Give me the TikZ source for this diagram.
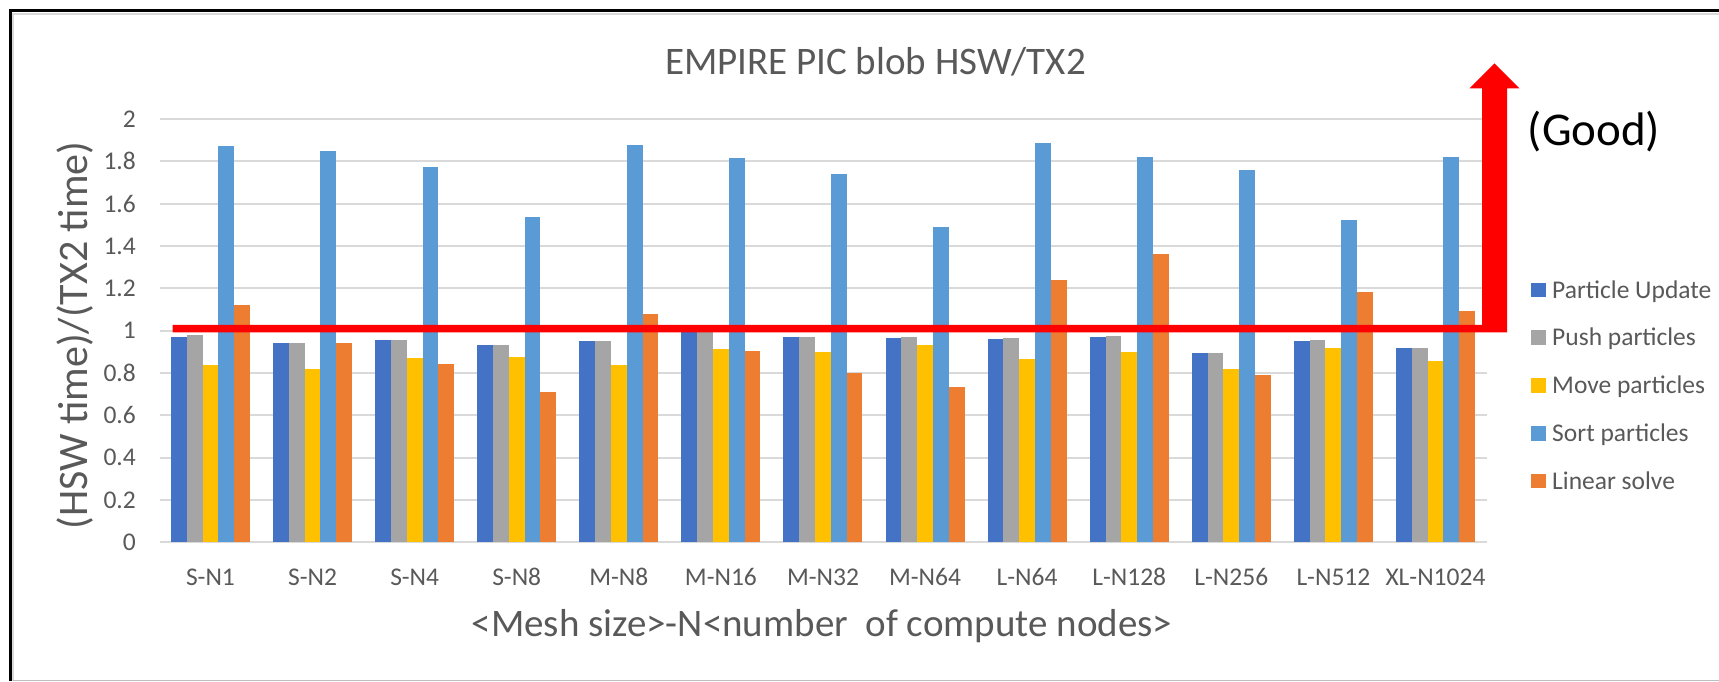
\documentclass[tikz,border=0pt]{standalone}
\usepackage{fontspec}
\setmainfont{Carlito}
\definecolor{cPU}{HTML}{4472C4}
\definecolor{cPush}{HTML}{A5A5A5}
\definecolor{cMove}{HTML}{FFC000}
\definecolor{cSort}{HTML}{5B9BD5}
\definecolor{cLin}{HTML}{ED7D31}
\definecolor{cGrid}{HTML}{D9D9D9}
\definecolor{cText}{HTML}{595959}
\definecolor{cRed}{HTML}{FF0000}
\tikzset{
  gridline/.style={draw=cGrid, line width=2pt},
  ticklbl/.style={font=\fontsize{25.5}{26}\selectfont, text=cText, inner sep=0pt, anchor=base east},
  catlbl/.style={font=\fontsize{25.5}{26}\selectfont, text=cText, inner sep=0pt, anchor=base},
  axtitle/.style={font=\fontsize{39}{40}\selectfont, text=cText, inner sep=0pt},
  leglbl/.style={font=\fontsize{25.5}{26}\selectfont, text=cText, inner sep=0pt, anchor=base west},
}
\begin{document}
\begin{tikzpicture}[x=1pt,y=1pt]
\useasboundingbox (0,0) rectangle (1719,681);
\fill[white] (0,0) rectangle (1719,681);
% frame
\draw[cGrid, line width=2pt] (13,0) -- (13,667) -- (1719,667);
\draw[black!25, line width=1.5pt] (13,0.75) -- (1719,0.75);
\draw[black, line width=2.5pt] (10.3,0) -- (10.3,670.7) -- (1719,670.7);
% gridlines and tick labels
\foreach \k/\t in {0/0,1/0.2,2/0.4,3/0.6,4/0.8,5/1,6/1.2,7/1.4,8/1.6,9/1.8,10/2}{
  \draw[gridline] (160,{138.7+42.32*\k}) -- (1487,{138.7+42.32*\k});
  \node[ticklbl] (yt\k) at (136,{138.7+42.32*\k-8.3}) {\t};
}
% bars
\foreach \i/\a/\b/\c/\d/\e/\lab in {
 0/0.970/0.978/0.836/1.875/1.120/S-N1,
 1/0.940/0.940/0.819/1.849/0.940/S-N2,
 2/0.957/0.957/0.869/1.773/0.842/S-N4,
 3/0.934/0.934/0.875/1.536/0.708/S-N8,
 4/0.953/0.953/0.836/1.878/1.080/M-N8,
 5/1.000/1.000/0.913/1.815/0.902/M-N16,
 6/0.970/0.970/0.900/1.740/0.798/M-N32,
 7/0.964/0.970/0.932/1.491/0.733/M-N64,
 8/0.959/0.964/0.867/1.886/1.240/L-N64,
 9/0.970/0.976/0.900/1.823/1.363/L-N128,
 10/0.894/0.894/0.817/1.759/0.792/L-N256,
 11/0.951/0.957/0.920/1.522/1.183/L-N512,
 12/0.920/0.920/0.857/1.822/1.093/XL-N1024}{
  \pgfmathsetmacro\gx{171+102.08*\i}
  \fill[cPU]   (\gx,138.7) rectangle ++(15.8,{211.6*\a});
  \fill[cPush] ({\gx+15.8},138.7) rectangle ++(15.8,{211.6*\b});
  \fill[cMove] ({\gx+31.6},138.7) rectangle ++(15.8,{211.6*\c});
  \fill[cSort] ({\gx+47.4},138.7) rectangle ++(15.8,{211.6*\d});
  \fill[cLin]  ({\gx+63.2},138.7) rectangle ++(15.8,{211.6*\e});
  \node[catlbl] (cat\i) at ({\gx+39.5},96) {\lab};
}
% titles
\node[axtitle, anchor=base] (title) at (875.5,606) {EMPIRE PIC blob HSW/TX2};
\node[axtitle, font=\fontsize{42}{43}\selectfont, rotate=90] (ytitle) at (75,345.5) {(HSW time)/(TX2 time)};
\node[axtitle, anchor=base] (xtitle) at (822,45) {<Mesh size>-N<number\ \ of compute nodes>};
% legend
\foreach \k/\col/\txt in {0/cPU/Particle Update,1/cPush/Push particles,2/cMove/Move particles,3/cSort/Sort particles,4/cLin/Linear solve}{
  \fill[\col] (1531,{681-290-47.8*\k-7.2}) rectangle ++(14.5,14.5);
  \node[leglbl] (leg\k) at (1552,{681-290-47.8*\k-8.2}) {\txt};
}
% red line and arrow
\fill[cRed] (172.7,{681-332.3}) -- (1507,{681-332.3}) -- (1507,{681-88.3}) -- (1519.4,{681-88.3})
  -- (1494.5,{681-63.3}) -- (1469.6,{681-88.3}) -- (1482,{681-88.3}) -- (1482,{681-325})
  -- (172.7,{681-325}) -- cycle;
\node[font=\fontsize{47}{48}\selectfont, text=black, inner sep=0pt] (good) at (1594,549) {(Good)};
\end{tikzpicture}
\end{document}
